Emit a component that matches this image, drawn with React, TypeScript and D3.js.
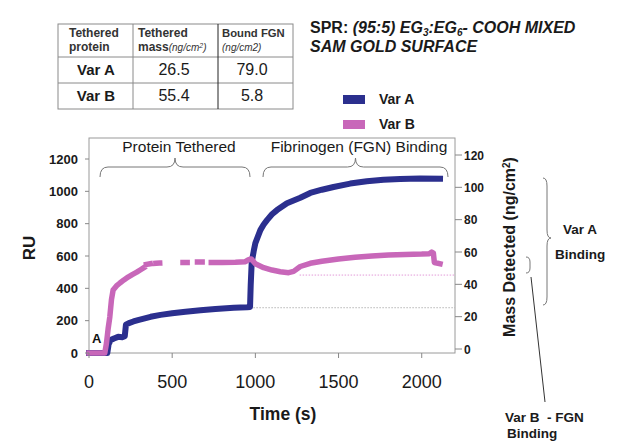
import React from 'react';
import * as d3 from 'd3';

// sensorgram samples (time in s, response in RU)
const timeA = [0, 110, 118, 130, 150, 175, 200, 215, 222, 240, 267, 300, 370, 430, 500, 580, 670, 760, 870, 950, 968, 972, 978, 990, 1000, 1015, 1030, 1050, 1070, 1100, 1130, 1190, 1270, 1330, 1400, 1470, 1570, 1670, 1770, 1870, 1990, 2110];
const ruA = [0, 0, 55, 80, 90, 100, 98, 104, 175, 185, 195, 205, 224, 236, 246, 255, 264, 272, 280, 283, 285, 420, 560, 630, 680, 720, 760, 795, 822, 858, 884, 926, 960, 990, 1010, 1027, 1048, 1062, 1072, 1076, 1080, 1078];

// null = gap between the sparse plateau samples
const timeB = [0, 95, 105, 115, 125, 135, 145, 165, 186, 210, 235, 260, 287, 310, 330, null, 345, 368, null, 402, 425, null, 565, 590, null, 652, 680, null, 735, 800, 880, 940, 960, 975, 1000, 1050, 1100, 1150, 1200, 1230, 1270, 1330, 1400, 1500, 1600, 1700, 1800, 1900, 2000, 2045, 2060, 2070, 2076, 2110];
const ruB = [0, 0, 60, 150, 222, 330, 390, 415, 433, 452, 470, 485, 500, 515, 528, null, 548, 552, null, 555, 556, null, 560, 560, null, 563, 563, null, 560, 560, 562, 565, 578, 582, 552, 528, 513, 503, 497, 505, 535, 555, 568, 582, 592, 600, 606, 610, 612, 614, 624, 618, 560, 552];

const xTicks = [0, 500, 1000, 1500, 2000];
const ruTicks = [0, 200, 400, 600, 800, 1000, 1200];
const massTicks = [0, 20, 40, 60, 80, 100, 120];

const refLevelB = 482;
const refLevelA = 280;

const tableHead = [['Tethered', 'protein'], ['Tethered', 'mass'], ['Bound FGN', '(ng/cm2)']];
const tableRows = [['Var A', '26.5', '79.0'], ['Var B', '55.4', '5.8']];
const seriesNames = ['Var A', 'Var B'];

const BLUE = '#2b2f8e';
const PINK = '#c867b9';
const FONT = "'Liberation Sans', Arial, sans-serif";

const hBrace = (x1: number, x2: number, yEnd: number, yFlat: number, yTip: number) => {
  const xm = (x1 + x2) / 2, r = 8;
  return `M${x1},${yEnd} Q${x1},${yFlat} ${x1 + r},${yFlat} L${xm - r},${yFlat} Q${xm},${yFlat} ${xm},${yTip} ` +
    `Q${xm},${yFlat} ${xm + r},${yFlat} L${x2 - r},${yFlat} Q${x2},${yFlat} ${x2},${yEnd}`;
};

export default function App() {
  const left = 89, right = 455, top = 138, bottom = 353;
  const x = d3.scaleLinear().domain([0, 2200]).range([left, right]);
  const y = d3.scaleLinear().domain([0, 1200]).range([353, 159]);
  const y2 = d3.scaleLinear().domain([0, 120]).range([349, 155]);

  const ptsA = timeA.map((t, i) => ({ t, v: ruA[i] as number | null }));
  const ptsB = timeB.map((t, i) => ({ t, v: ruB[i] as number | null }));
  const line = d3.line<{ t: number | null; v: number | null }>()
    .defined(d => d.t != null && d.v != null)
    .x(d => x(d.t as number))
    .y(d => y(d.v as number));

  const colX = [58, 133, 218, 293];
  const rowY = [24, 57, 83, 109];

  return (
    <svg width={619} height={441} style={{ position: 'absolute', left: 0, top: 0, background: '#fff' }} fontFamily={FONT}>
      {/* table */}
      <g stroke="#8a8a8a" strokeWidth={1} fill="none">
        <rect x={colX[0]} y={rowY[0]} width={colX[3] - colX[0]} height={rowY[3] - rowY[0]} />
        <line x1={colX[0]} x2={colX[3]} y1={rowY[1]} y2={rowY[1]} />
        <line x1={colX[0]} x2={colX[3]} y1={rowY[2]} y2={rowY[2]} />
        <line x1={colX[1]} x2={colX[1]} y1={rowY[0]} y2={rowY[3]} />
        <line x1={colX[2]} x2={colX[2]} y1={rowY[0]} y2={rowY[3]} stroke="#222" />
      </g>
      <g fill="#333" fontWeight="bold" fontSize={12}>
        <text x={69} y={37}>{tableHead[0][0]}</text>
        <text x={69} y={51}>{tableHead[0][1]}</text>
        <text x={138} y={37}>{tableHead[1][0]}</text>
        <text x={138} y={51}>{tableHead[1][1]}<tspan fontStyle="italic" fontWeight="normal" fontSize={10}>(ng/cm<tspan dy={-3} fontSize={7}>2</tspan><tspan dy={3}>)</tspan></tspan></text>
        <text x={222} y={37} fontSize={11.3}>{tableHead[2][0]}</text>
        <text x={222} y={51} fontSize={10} fontStyle="italic" fontWeight="normal">{tableHead[2][1]}</text>
      </g>
      {tableRows.map((r, i) => (
        <g key={r[0]} fill="#1a1a1a" fontSize={16} textAnchor="middle">
          <text x={96} y={75 + i * 26} fontWeight="bold" fontSize={15}>{r[0]}</text>
          <text x={174} y={75 + i * 26}>{r[1]}</text>
          <text x={252} y={75 + i * 26}>{r[2]}</text>
        </g>
      ))}

      {/* title */}
      <text x={310} y={33} fontSize={16} fontWeight="bold" fill="#1a1a1a">
        SPR: <tspan fontStyle="italic">(95:5) EG<tspan dy={3} fontSize={10}>3</tspan><tspan dy={-3}>:EG</tspan><tspan dy={3} fontSize={10}>6</tspan><tspan dy={-3}>- COOH MIXED</tspan></tspan>
      </text>
      <text x={310} y={52} fontSize={16} fontWeight="bold" fontStyle="italic" fill="#1a1a1a">SAM GOLD SURFACE</text>

      {/* legend */}
      {seriesNames.map((n, i) => (
        <g key={n}>
          <rect x={343} y={95 + i * 25} width={22} height={9} fill={i === 0 ? BLUE : PINK} />
          <text x={379} y={104 + i * 25} fontSize={14} fontWeight="bold" fill="#1a1a1a">{n}</text>
        </g>
      ))}

      {/* frame */}
      <rect x={left} y={top} width={right - left} height={bottom - top} fill="none" stroke="#9a9a9a" strokeWidth={1} />

      {/* reference levels */}
      <line x1={x(1266)} x2={right} y1={y(refLevelB)} y2={y(refLevelB)} stroke="#e29ad8" strokeWidth={1} strokeDasharray="1.5,1.5" />
      <line x1={x(970)} x2={right} y1={y(refLevelA)} y2={y(refLevelA)} stroke="#b5b5b5" strokeWidth={1} strokeDasharray="1.5,1.5" />

      {/* series */}
      <path d={line(ptsA) || ''} fill="none" stroke={BLUE} strokeWidth={6} strokeLinejoin="round" strokeLinecap="square" />
      <path d={line(ptsB) || ''} fill="none" stroke={PINK} strokeWidth={5.5} strokeLinejoin="round" strokeLinecap="square" />

      {/* left axis */}
      <g fontSize={13} fontWeight="bold" fill="#1a1a1a" textAnchor="end">
        {ruTicks.map(t => (
          <g key={t}>
            <line x1={left - 4} x2={left} y1={y(t)} y2={y(t)} stroke="#888" />
            <text x={78} y={y(t) + 4.5}>{t}</text>
          </g>
        ))}
      </g>
      {/* right axis */}
      <g fontSize={12} fontWeight="bold" fill="#1a1a1a">
        {massTicks.map(t => (
          <g key={t}>
            <line x1={right} x2={right + 7} y1={y2(t)} y2={y2(t)} stroke="#888" />
            <text x={464} y={y2(t) + 4.5}>{t}</text>
          </g>
        ))}
      </g>
      {/* bottom axis */}
      <g fontSize={18} fill="#1a1a1a" textAnchor="middle">
        {xTicks.map(t => (
          <g key={t}>
            <line x1={x(t)} x2={x(t)} y1={bottom} y2={bottom + 5} stroke="#888" />
            <text x={x(t)} y={388}>{t}</text>
          </g>
        ))}
      </g>
      <text x={283} y={420} fontSize={17.5} fontWeight="bold" textAnchor="middle" fill="#1a1a1a">Time (s)</text>
      <text transform="translate(35,248) rotate(-90)" fontSize={17} fontWeight="bold" textAnchor="middle" fill="#1a1a1a">RU</text>
      <text transform="translate(515,247) rotate(-90)" fontSize={16} fontWeight="bold" textAnchor="middle" fill="#1a1a1a">
        Mass Detected (ng/cm<tspan dy={-5} fontSize={10}>2</tspan><tspan dy={5}>)</tspan>
      </text>
      <text x={92} y={343} fontSize={13} fontWeight="bold" fill="#111">A</text>

      {/* phase braces */}
      <g fill="none" stroke="#777" strokeWidth={1}>
        <path d={hBrace(100, 250, 177, 167, 158)} />
        <path d={hBrace(263, 448, 177, 167, 158)} />
        <path d="M543,178 Q547,178 547,186 L547,230 Q547,238 551,238 Q547,238 547,246 L547,297 Q547,305 543,305" />
        <path d="M526,257 Q530,257 530,262 L530,268 Q530,273 526,273" />
        <line x1={531} y1={277} x2={545} y2={402} stroke="#333" />
      </g>
      <g fontSize={15.5} fill="#1a1a1a" textAnchor="middle">
        <text x={179} y={152}>Protein Tethered</text>
        <text x={359} y={152}>Fibrinogen (FGN) Binding</text>
      </g>
      <g fontSize={13.5} fontWeight="bold" fill="#1a1a1a">
        <text x={563} y={234}>Var A</text>
        <text x={555} y={259}>Binding</text>
        <text x={505} y={422}>{'Var B\u00a0\u00a0- FGN'}</text>
        <text x={507} y={438}>Binding</text>
      </g>
    </svg>
  );
}
